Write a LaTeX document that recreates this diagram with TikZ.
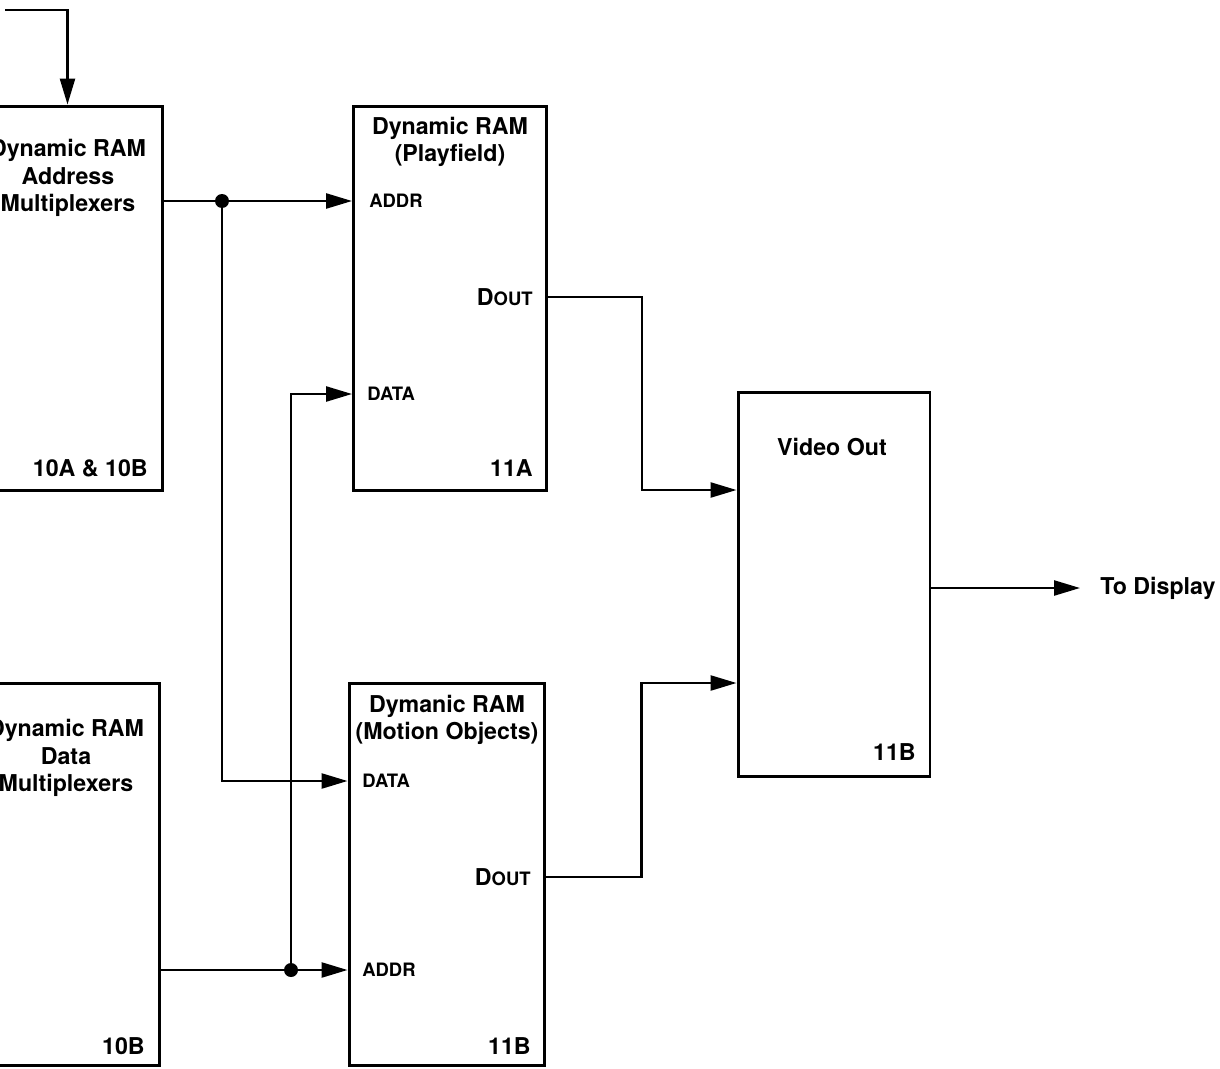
\documentclass[tikz,border=0pt]{standalone}
\usepackage{fontspec}
\setmainfont{TeX Gyre Heros}
\usetikzlibrary{arrows.meta,positioning,calc}

\begin{document}
\begin{tikzpicture}[x=0.02cm,y=-0.02cm,
  ramblock/.style={draw,line width=1.7pt,minimum width=3.86cm,minimum height=7.7cm,inner sep=0pt},
  title/.style={font=\fontsize{13.2}{15.6}\selectfont\bfseries,align=center,inner sep=0pt},
  pin/.style={font=\fontsize{10.5}{12}\selectfont\bfseries,inner sep=0pt},
  chip/.style={font=\fontsize{13.2}{15.6}\selectfont\bfseries,inner sep=0pt},
  sig/.style={line width=1.4pt,-{Triangle[length=0.52cm,width=0.3cm]}},
  junc/.style={circle,fill,inner sep=0pt,minimum size=0.28cm}
]
  \useasboundingbox (0,0) rectangle (1220,1068);
  \clip (0,0) rectangle (1220,1068);

  % Multiplexers (left, cut off)
  \node[ramblock,minimum width=3.82cm] (amux) at (67.5,298.5) {};
  \node[title] (amuxt) at (68,178) {Dynamic RAM\\Address\\Multiplexers};
  \node[chip,anchor=east] (amuxn) at (148,468) {10A \& 10B};

  \node[ramblock,minimum width=3.76cm,minimum height=7.66cm] (dmux) at (66,874.5) {};
  \node[title] (dmuxt) at (66,758) {Dynamic RAM\\Data\\Multiplexers};
  \node[chip,anchor=east] (dmuxn) at (145,1046) {10B};

  % Playfield RAM
  \node[ramblock] (pf) at (450,298.5) {};
  \node[title] (pft) at (450,142) {Dynamic RAM\\(Playfield)};
  \node[pin,anchor=west] (pfaddr) at (369,201) {ADDR};
  \node[pin,anchor=west] (pfdata) at (367,394) {DATA};
  \node[pin,anchor=east] (pfdout) at (533,297) {\fontsize{13.2}{15}\selectfont D\fontsize{10.5}{12}\selectfont OUT};
  \node[chip,anchor=east] (pfn) at (533,468) {11A};

  % Motion objects RAM
  \node[ramblock,minimum width=3.92cm,minimum height=7.66cm] (mo) at (447,874.5) {};
  \node[title] (mot) at (447,720) {Dymanic RAM\\(Motion Objects)};
  \node[pin,anchor=west] (modata) at (362,781) {DATA};
  \node[pin,anchor=west] (moaddr) at (362,970) {ADDR};
  \node[pin,anchor=east] (modout) at (531,877) {\fontsize{13.2}{15}\selectfont D\fontsize{10.5}{12}\selectfont OUT};
  \node[chip,anchor=east] (mon) at (531,1046) {11B};

  % Video out
  \node[ramblock,minimum width=3.84cm] (vid) at (834,584.5) {};
  \node[title] (vidt) at (832,447) {Video Out};
  \node[chip,anchor=east] (vidn) at (916,752) {11B};
  \node[chip,anchor=west] (todisp) at (1100,588) {To Display};

  % Connectors
  \coordinate (in) at (5,10);
  \coordinate (j1) at (222,201);
  \coordinate (j2) at (291,970);
  \coordinate (vin1) at (0,490);
  \coordinate (vin2) at (0,683);

  \draw[sig] (in) -| (amux.north);
  \draw[sig] (amux.east |- j1) -- (pf.west |- j1);
  \draw[sig] (j1) |- (mo.west |- modata);
  \draw[sig] (dmux.east |- j2) -- (mo.west |- j2);
  \draw[sig] (j2) |- (pf.west |- pfdata);
  \node[junc] (d1) at (j1) {};
  \node[junc] (d2) at (j2) {};

  \draw[sig] (pf.east |- pfdout) -- ++(94,0) |- (vid.west |- vin1);
  \draw[sig] (mo.east |- modout) -- ++(95,0) |- (vid.west |- vin2);
  \draw[sig] (vid.east |- todisp) -- ([xshift=-0.4cm]todisp.west);
\end{tikzpicture}
\end{document}
